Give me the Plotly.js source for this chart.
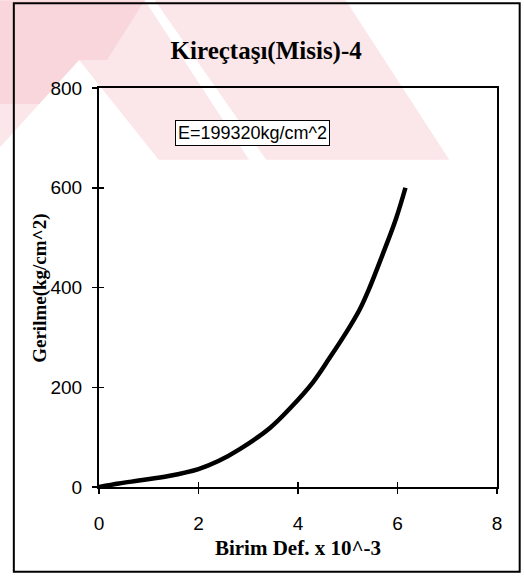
<!DOCTYPE html>
<html>
<head>
<meta charset="utf-8">
<script src="https://cdn.plot.ly/plotly-3.0.1.min.js"></script>
<style>html,body{margin:0;padding:0;background:#fff;}#chart{width:524px;height:576px;}</style>
</head>
<body>
<div id="chart"></div>
<script>
// Data
const strain = [0, 0.4, 0.8, 1.4, 2.0, 2.4, 2.83, 3.43, 3.86, 4.3, 4.63, 4.97, 5.24, 5.44, 5.7, 5.97, 6.16];
const stress = [0, 7, 13, 22, 36, 52, 76, 118, 160, 210, 258, 310, 356, 400, 466, 538, 600];
const xTicks = [0, 2, 4, 6, 8];
const yTicks = [0, 200, 400, 600, 800];
const chartTitle = 'Kireçtaşı(Misis)-4';
const xTitle = 'Birim Def. x 10^-3';
const yTitle = 'Gerilme(kg/cm^2)';
const noteText = 'E=199320kg/cm^2';

const serif = 'Liberation Serif, Times New Roman, serif';
const sans = 'Liberation Sans, Arial, sans-serif';

const traces = [
  {x: strain, y: stress, type: 'scatter', mode: 'lines',
   line: {color: '#000', width: 4.5, shape: 'spline', smoothing: 1},
   hoverinfo: 'skip', showlegend: false},
  {x: [0], y: [0], xaxis: 'x2', yaxis: 'y2', type: 'scatter', mode: 'markers',
   marker: {opacity: 0}, hoverinfo: 'skip', showlegend: false}
];

const pink = 'rgba(226,80,96,0.14)';
const pinkDeep = 'rgba(226,80,96,0.10)';
const layout = {
  width: 524, height: 576,
  margin: {l: 99, r: 27, t: 88, b: 89},
  paper_bgcolor: '#fff', plot_bgcolor: 'rgba(0,0,0,0)',
  showlegend: false,
  title: {text: chartTitle, x: 0.508, xanchor: 'center', y: 0.912, yanchor: 'middle',
          font: {family: serif, size: 25, weight: 'bold', color: '#000'}},
  xaxis: {range: [0, 8], tickvals: xTicks, ticktext: xTicks.map(String),
          showgrid: false, zeroline: false, showline: true, linecolor: '#000', linewidth: 2,
          mirror: true, ticks: 'outside', ticklen: 5, tickwidth: 1.5, tickcolor: '#000',
          ticklabelstandoff: 13,
          tickfont: {family: sans, size: 19, color: '#000'},
          title: {text: xTitle, standoff: 8, font: {family: serif, size: 21, weight: 'bold', color: '#000'}}},
  yaxis: {range: [0, 800], tickvals: yTicks, ticktext: yTicks.map(String),
          showgrid: false, zeroline: false, showline: true, linecolor: '#000', linewidth: 2,
          mirror: true, ticks: 'outside', ticklen: 5, tickwidth: 1.5, tickcolor: '#000',
          ticklabelstandoff: 6,
          tickfont: {family: sans, size: 19, color: '#000'}},
  xaxis2: {range: [0, 8], tickvals: xTicks, overlaying: 'x', anchor: 'y2', side: 'bottom',
           showgrid: false, zeroline: false, showline: false, showticklabels: false,
           ticks: 'inside', ticklen: 5, tickwidth: 1.5, tickcolor: '#000'},
  yaxis2: {range: [0, 800], tickvals: yTicks, overlaying: 'y', anchor: 'x2', side: 'left',
           showgrid: false, zeroline: false, showline: false, showticklabels: false,
           ticks: 'inside', ticklen: 5, tickwidth: 1.5, tickcolor: '#000'},
  annotations: [
    {text: yTitle, xref: 'paper', yref: 'paper', x: -0.148, y: 0.497,
     xanchor: 'center', yanchor: 'middle', textangle: -90, showarrow: false,
     font: {family: serif, size: 19, weight: 'bold', color: '#000'}},
    {text: noteText, xref: 'paper', yref: 'paper', x: 0.386, y: 0.886,
     xanchor: 'center', yanchor: 'middle', showarrow: false,
     font: {family: sans, size: 18, color: '#000'},
     bordercolor: '#000', borderwidth: 1, borderpad: 2, bgcolor: '#fff'}
  ],
  shapes: [
    // faint watermark bands (background)
    {type: 'path', xref: 'paper', yref: 'paper', layer: 'below', line: {width: 0}, fillcolor: pink,
     path: 'M -0.25 1.22 L 0.115 1.22 L 0.377 0.82 L 0.15 0.82 L -0.05 1.07 L -0.25 0.85 Z'},
    {type: 'path', xref: 'paper', yref: 'paper', layer: 'below', line: {width: 0}, fillcolor: pink,
     path: 'M 0.14 1.22 L 0.62 1.22 L 0.88 0.82 L 0.42 0.82 Z'},
    {type: 'path', xref: 'paper', yref: 'paper', layer: 'below', line: {width: 0}, fillcolor: pinkDeep,
     path: 'M -0.25 1.22 L 0.115 1.22 L 0.02 1.07 L -0.05 1.07 L -0.15 0.96 L -0.25 0.96 Z'},
    // outer frame
    {type: 'rect', xref: 'paper', yref: 'paper', x0: -0.214, x1: 1.057, y0: -0.2125, y1: 1.2125,
     line: {color: '#000', width: 2}, fillcolor: 'rgba(0,0,0,0)', layer: 'above'}
  ]
};

Plotly.newPlot('chart', traces, layout, {staticPlot: true, displayModeBar: false});
</script>
</body>
</html>
